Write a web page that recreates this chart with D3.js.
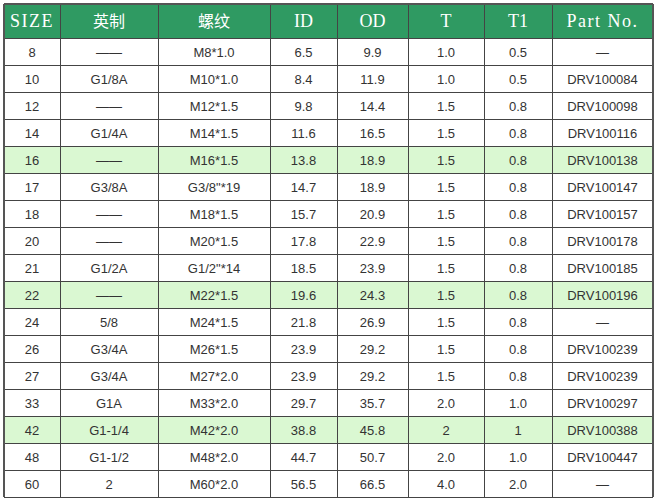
<!DOCTYPE html>
<html>
<head>
<style>html,body{margin:0;padding:0;background:#fff;}</style>
<script src="https://d3js.org/d3.v7.min.js"></script>
</head>
<body>
<script>
var headers = ["SIZE","英制","螺纹","ID","OD","T","T1","Part No."];
var colEdges = [4, 60, 158, 270, 337, 408, 484, 552, 653];
var sizes = ["8","10","12","14","16","17","18","20","21","22","24","26","27","33","42","48","60"];
var inch = ["——","G1/8A","——","G1/4A","——","G3/8A","——","——","G1/2A","——","5/8","G3/4A","G3/4A","G1A","G1-1/4","G1-1/2","2"];
var thread = ["M8*1.0","M10*1.0","M12*1.5","M14*1.5","M16*1.5","G3/8\"*19","M18*1.5","M20*1.5","G1/2\"*14","M22*1.5","M24*1.5","M26*1.5","M27*2.0","M33*2.0","M42*2.0","M48*2.0","M60*2.0"];
var idv = ["6.5","8.4","9.8","11.6","13.8","14.7","15.7","17.8","18.5","19.6","21.8","23.9","23.9","29.7","38.8","44.7","56.5"];
var odv = ["9.9","11.9","14.4","16.5","18.9","18.9","20.9","22.9","23.9","24.3","26.9","29.2","29.2","35.7","45.8","50.7","66.5"];
var tv = ["1.0","1.0","1.5","1.5","1.5","1.5","1.5","1.5","1.5","1.5","1.5","1.5","1.5","2.0","2","2.0","4.0"];
var t1v = ["0.5","0.5","0.8","0.8","0.8","0.8","0.8","0.8","0.8","0.8","0.8","0.8","0.8","1.0","1","1.0","2.0"];
var parts = ["—","DRV100084","DRV100098","DRV100116","DRV100138","DRV100147","DRV100157","DRV100178","DRV100185","DRV100196","—","DRV100239","DRV100239","DRV100297","DRV100388","DRV100447","—"];
var highlighted = ["16","22","42"];

var rows = sizes.map(function(s,i){return [s,inch[i],thread[i],idv[i],odv[i],tv[i],t1v[i],parts[i]];});

var W = 657, H = 503, top0 = 4, headH = 34, bottom = 497;
var svg = d3.select("body").append("svg").attr("width",W).attr("height",H);
var y = d3.scaleBand().domain(d3.range(rows.length)).range([top0+headH, bottom]);

// header
svg.append("rect").attr("x",colEdges[0]).attr("y",top0).attr("width",colEdges[8]-colEdges[0]).attr("height",headH).attr("fill","#2f9a62");
svg.selectAll(".h").data(headers).enter().append("text")
  .attr("x",function(d,i){return (colEdges[i]+colEdges[i+1])/2;})
  .attr("y",top0+headH/2+6)
  .attr("text-anchor","middle").attr("fill","#fff")
  .attr("font-family",function(d,i){return (i==1||i==2)?"'Noto Sans CJK SC'":"'Liberation Serif','DejaVu Serif',serif";})
  .attr("font-size",function(d,i){return (i==1||i==2)?"16px":"18px";})
  .attr("letter-spacing",function(d,i){return (i==0||i==7)?"1.5px":"0";})
  .text(function(d){return d;});

// body rows
var g = svg.selectAll(".row").data(rows).enter().append("g");
g.append("rect").attr("x",colEdges[0]).attr("y",function(d,i){return y(i);})
  .attr("width",colEdges[8]-colEdges[0]).attr("height",y.bandwidth())
  .attr("fill",function(d){return highlighted.indexOf(d[0])>=0?"#daf8d2":"#fff";});
g.selectAll("text").data(function(d,i){return d.map(function(v){return {v:v,i:i};});}).enter().append("text")
  .attr("x",function(d,j){return (colEdges[j]+colEdges[j+1])/2;})
  .attr("y",function(d){return y(d.i)+y.bandwidth()/2+5;})
  .attr("text-anchor","middle").attr("fill","#333")
  .attr("font-family","'Liberation Sans',Arial,sans-serif").attr("font-size","13px")
  .text(function(d){return d.v;});

// grid lines
svg.selectAll(".hl").data(d3.range(rows.length+1)).enter().append("line")
  .attr("x1",colEdges[0]).attr("x2",colEdges[8])
  .attr("y1",function(i){return i==rows.length?bottom:y(i);}).attr("y2",function(i){return i==rows.length?bottom:y(i);})
  .attr("stroke","#444").attr("stroke-width",1).attr("shape-rendering","crispEdges");
svg.selectAll(".vl").data(colEdges).enter().append("line")
  .attr("x1",function(d){return d;}).attr("x2",function(d){return d;})
  .attr("y1",top0).attr("y2",bottom)
  .attr("stroke",function(d,i){return (i==0||i==8)?"#555":"#444";})
  .attr("stroke-width",function(d,i){return (i==0||i==8)?2:1;}).attr("shape-rendering","crispEdges");
svg.append("line").attr("x1",colEdges[0]).attr("x2",colEdges[8]).attr("y1",top0).attr("y2",top0)
  .attr("stroke","#555").attr("stroke-width",2).attr("shape-rendering","crispEdges");
</script>
</body>
</html>
